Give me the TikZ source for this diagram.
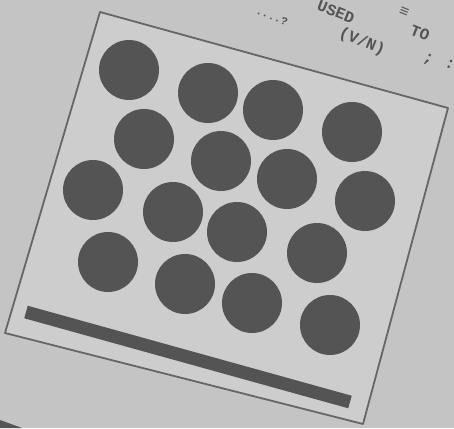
\documentclass[tikz,border=0pt]{standalone}
\usepackage{fontspec}
\newfontfamily\scanmono{Liberation Mono}
\definecolor{paperout}{HTML}{C4C4C4}
\definecolor{paperin}{HTML}{CDCDCD}
\definecolor{ink}{HTML}{545454}
\definecolor{frameink}{HTML}{666666}
\begin{document}
\begin{tikzpicture}[x=1pt,y=-1pt,
  dot/.style={circle,fill=ink,draw=none,minimum size=60pt,inner sep=0pt},
  frameline/.style={draw=frameink,line width=1.8pt,line join=round},
  scantext/.style={text=ink,font=\scanmono\bfseries\fontsize{16}{16}\selectfont,rotate=-22,inner sep=0pt}]
\useasboundingbox (0,0) rectangle (454,428);
\fill[paperout] (0,0) rectangle (454,428);
% frame
\coordinate (tl) at (100,12);
\coordinate (tr) at (448,108);
\coordinate (br) at (363,424);
\coordinate (bl) at (5,333);
\fill[paperin] (tl) -- (tr) -- (br) -- (bl) -- cycle;
\draw[frameline] (tl) -- (tr) -- (br) -- (bl) -- cycle;
% dots
\node[dot] (d1) at (129,70) {};
\node[dot] (d2) at (208,93) {};
\node[dot] (d3) at (273,110) {};
\node[dot] (d4) at (352,132) {};
\node[dot] (d5) at (144,139) {};
\node[dot] (d6) at (221,161) {};
\node[dot] (d7) at (287,179) {};
\node[dot] (d8) at (365,201) {};
\node[dot] (d9) at (93,190) {};
\node[dot] (d10) at (173,212) {};
\node[dot] (d11) at (237,232) {};
\node[dot] (d12) at (317,253) {};
\node[dot] (d13) at (108,262) {};
\node[dot] (d14) at (185,284) {};
\node[dot] (d15) at (252,303) {};
\node[dot] (d16) at (330,325) {};
% bar
\coordinate (barL) at (26,312);
\coordinate (barR) at (350,402);
\draw[ink,line width=13pt] (barL) -- (barR);
% scanned text fragments
\node[scantext,font=\scanmono\bfseries\fontsize{11}{11}\selectfont] (t1) at (272,16) {....?};
\node[scantext] (t2) at (336,12) {USED};
\node[scantext] (t3) at (404,12) {≡};
\node[scantext] (t4) at (420,33) {TO};
\node[scantext] (t5) at (362,42) {(V/N)};
\node[scantext] (t6) at (428,60) {;};
\node[scantext] (t7) at (450,64) {:};
% dark corner
\fill[ink] (0,420) -- (22,428) -- (0,428) -- cycle;
\end{tikzpicture}
\end{document}
